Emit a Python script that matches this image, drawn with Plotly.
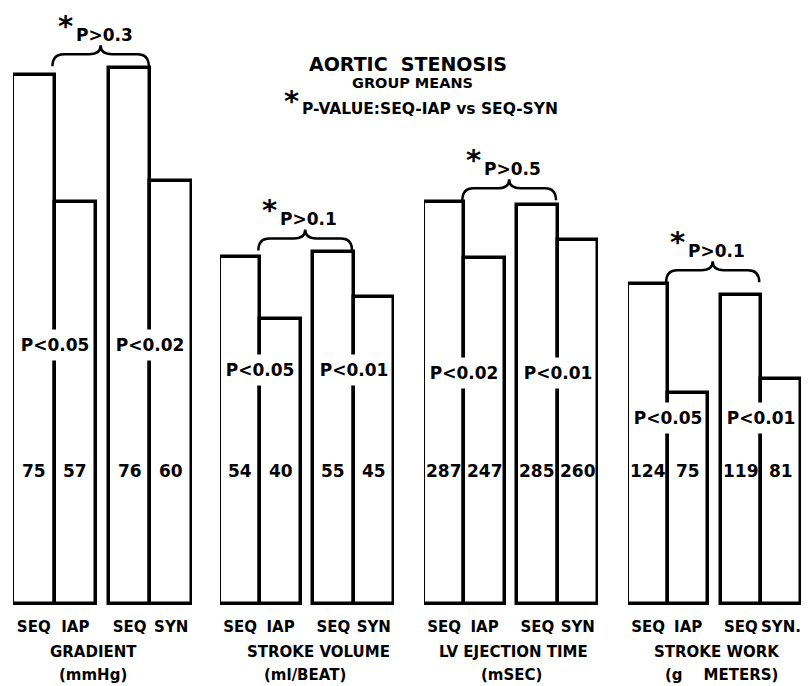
import plotly.graph_objects as go

# ---------------- data ----------------
group_names = ["GRADIENT", "STROKE VOLUME", "LV EJECTION TIME", "STROKE WORK"]
group_units = ["(mmHg)", "(ml/BEAT)", "(mSEC)", "(g\u00a0\u00a0\u00a0\u00a0METERS)"]
bar_labels = [
    ["SEQ", "IAP", "SEQ", "SYN"],
    ["SEQ", "IAP", "SEQ", "SYN"],
    ["SEQ", "IAP", "SEQ", "SYN"],
    ["SEQ", "IAP", "SEQ", "SYN."],
]
gradient = [75, 57, 76, 60]
stroke_volume = [54, 40, 55, 45]
lv_ejection_time = [287, 247, 285, 260]
stroke_work = [124, 75, 119, 81]
p_within = [["P<0.05", "P<0.02"], ["P<0.05", "P<0.01"],
            ["P<0.02", "P<0.01"], ["P<0.05", "P<0.01"]]
p_between = ["P>0.3", "P>0.1", "P>0.5", "P>0.1"]

series = [gradient, stroke_volume, lv_ejection_time, stroke_work]

# ---------------- layout constants ----------------
OFF = 8                       # page body margin
W, H = 809 - OFF, 686 - OFF   # figure size
FONT = "DejaVu Sans"
px_per_unit = [7.05, 4.45, 1.40, 2.215]      # vertical scale of each panel
base_vals = [0, -24.0, 0, -20.4]             # value at panel baseline
x_spans = [(13, 192), (220, 394), (424, 598), (628, 801)]
baseline_px, dom_bottom_px, dom_top_px = 604, 612, 30
pos = [0, 1, 2.31, 3.31]
p_rows = [345, 370, 373, 418]
value_row = 471
title_x = [93, 318, 513, 717]
unit_x = [93, 305, 511, 721]


def py(p):
    return 1 - (p - OFF) / H


def pxx(p):
    return (p - OFF) / W


def txt(s, size, **kw):
    d = dict(text=f"<b>{s}</b>", showarrow=False,
             xanchor="center", yanchor="middle",
             font=dict(family=FONT, size=size, color="black"))
    d.update(kw)
    return d


fig = go.Figure()
annotations = []
shapes = []

for i, vals in enumerate(series):
    n = i + 1
    xa = "x" if n == 1 else f"x{n}"
    ya = "y" if n == 1 else f"y{n}"
    k = px_per_unit[i]
    b = base_vals[i]

    fig.add_trace(go.Bar(
        x=pos, y=[v - b for v in vals], base=b, width=1,
        marker=dict(color="white", line=dict(color="black", width=3.5)),
        xaxis=xa, yaxis=ya, showlegend=False, hoverinfo="skip",
    ))

    x0, x1 = x_spans[i]
    fig.update_layout(**{
        ("xaxis" if n == 1 else f"xaxis{n}"): dict(
            domain=[pxx(x0), pxx(x1)], range=[-0.5, 3.81], anchor=ya,
            tickvals=pos, ticktext=[f"<b>{t}</b>" for t in bar_labels[i]],
            tickfont=dict(family=FONT, size=15, color="black"),
            showgrid=False, zeroline=False, showline=False, ticks="",
            ticklabelstandoff=4, automargin=False, fixedrange=True),
        ("yaxis" if n == 1 else f"yaxis{n}"): dict(
            domain=[py(dom_bottom_px), py(dom_top_px)],
            range=[b - (dom_bottom_px - baseline_px) / k,
                   b + (baseline_px - dom_top_px) / k],
            anchor=xa, visible=False, fixedrange=True),
    })

    # values inside bars
    for j, v in enumerate(vals):
        annotations.append(txt(v, 17, xref=xa, yref="paper",
                               x=pos[j], y=py(value_row)))

    # within-pair p values (white box interrupts divider)
    for j, cx in enumerate([(pos[0] + pos[1]) / 2, (pos[2] + pos[3]) / 2]):
        annotations.append(txt(
            p_within[i][j].replace('<', '&lt;'), 17,
            xref=xa, yref="paper", x=cx, y=py(p_rows[i]),
            bgcolor="white", width=72, height=30, borderpad=0))

    # brace between SEQ bars
    xl, xr = pos[0] + 0.45, pos[2] + 0.46
    xm = (xl + xr) / 2
    yb = max(vals[0], vals[2]) + 2 / k
    ym = yb + 12 / k
    yt = yb + 21 / k
    c = 0.28
    path = (f"M {xl},{yb} Q {xl},{ym} {xl + c},{ym} L {xm - c},{ym} "
            f"Q {xm},{ym} {xm},{yt} Q {xm},{ym} {xm + c},{ym} "
            f"L {xr - c},{ym} Q {xr},{ym} {xr},{yb}")
    shapes.append(dict(type="path", xref=xa, yref=ya, path=path,
                       line=dict(color="black", width=2.5)))
    annotations.append(txt(p_between[i].replace('>', '&gt;'), 17,
                           xref=xa, yref=ya, x=xm, y=yb,
                           xshift=-27, yshift=31, xanchor="left"))
    annotations.append(txt("*", 29, xref=xa, yref=ya, x=xm, y=yb,
                           xshift=-26, yshift=40, xanchor="right"))

    # group titles
    annotations.append(txt(group_names[i], 15, xref="paper", yref="paper",
                           x=pxx(title_x[i]), y=py(652)))
    annotations.append(txt(group_units[i], 15, xref="paper", yref="paper",
                           x=pxx(unit_x[i]), y=py(675)))

# main titles
annotations += [
    txt("AORTIC  STENOSIS", 19, xref="paper", yref="paper",
        x=pxx(408), y=py(64)),
    txt("GROUP MEANS", 14.5, xref="paper", yref="paper",
        x=pxx(412), y=py(83)),
    txt("P-VALUE:SEQ-IAP vs SEQ-SYN", 15.5, xref="paper", yref="paper",
        x=pxx(300), y=py(109), xanchor="left"),
    txt("*", 29, xref="paper", yref="paper",
        x=pxx(301), y=py(101), xanchor="right"),
]

fig.update_layout(
    width=W, height=H, margin=dict(l=0, r=0, t=0, b=0, autoexpand=False),
    paper_bgcolor="white", plot_bgcolor="white",
    showlegend=False, annotations=annotations, shapes=shapes,
    bargap=0,
)

fig.write_html("out.html")
